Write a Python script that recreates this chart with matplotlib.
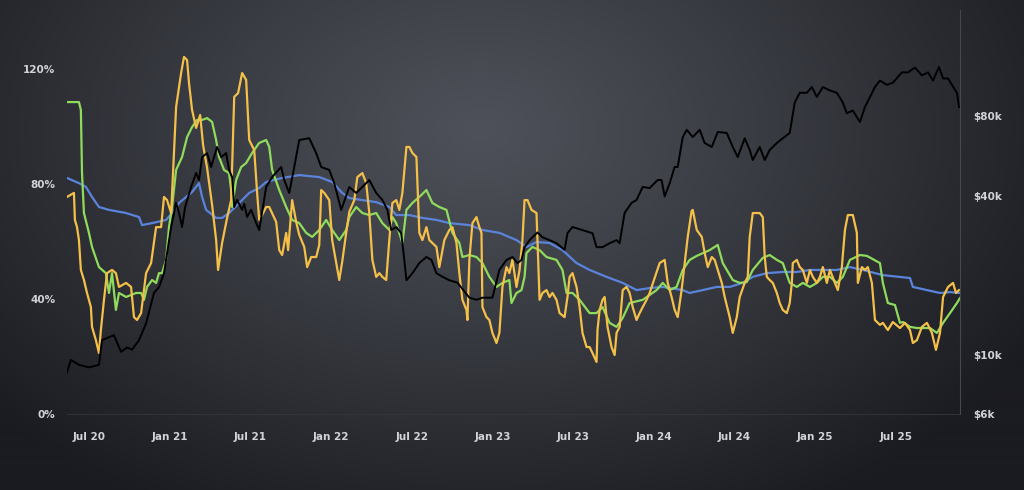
import matplotlib
matplotlib.use("Agg")
import matplotlib.pyplot as plt
import numpy as np

# time is in decimal years, volatility in %, price in thousands of USD

price_years = [2020.364, 2020.388, 2020.438, 2020.500, 2020.562, 2020.581, 2020.624, 2020.655, 2020.699, 2020.736,
               2020.767, 2020.810, 2020.854, 2020.903, 2020.934, 2020.965, 2020.984, 2021.009, 2021.040, 2021.058,
               2021.077, 2021.096, 2021.133, 2021.164, 2021.182, 2021.201, 2021.232, 2021.257, 2021.294, 2021.319,
               2021.350, 2021.368, 2021.387, 2021.400, 2021.418, 2021.449, 2021.462, 2021.480, 2021.505, 2021.536,
               2021.555, 2021.598, 2021.635, 2021.691, 2021.710, 2021.741, 2021.772, 2021.803, 2021.865, 2021.908,
               2021.939, 2021.989, 2022.020, 2022.063, 2022.113, 2022.156, 2022.194, 2022.237, 2022.280, 2022.318,
               2022.349, 2022.373, 2022.404, 2022.435, 2022.454, 2022.467, 2022.504, 2022.547, 2022.591, 2022.622,
               2022.653, 2022.690, 2022.733, 2022.783, 2022.857, 2022.901, 2022.938, 2023.000, 2023.043, 2023.087,
               2023.124, 2023.155, 2023.180, 2023.199, 2023.230, 2023.279, 2023.310, 2023.354, 2023.397, 2023.447,
               2023.465, 2023.496, 2023.558, 2023.620, 2023.645, 2023.682, 2023.726, 2023.769, 2023.788, 2023.819,
               2023.862, 2023.893, 2023.931, 2023.974, 2024.024, 2024.048, 2024.067, 2024.098, 2024.129, 2024.148,
               2024.179, 2024.204, 2024.241, 2024.284, 2024.315, 2024.359, 2024.396, 2024.452, 2024.489, 2024.520,
               2024.563, 2024.594, 2024.613, 2024.656, 2024.687, 2024.718, 2024.762, 2024.799, 2024.842, 2024.873,
               2024.904, 2024.948, 2024.979, 2025.010, 2025.047, 2025.091, 2025.134, 2025.171, 2025.196, 2025.233,
               2025.277, 2025.308, 2025.339, 2025.370, 2025.401, 2025.444, 2025.481, 2025.537, 2025.574, 2025.618,
               2025.661, 2025.699, 2025.730, 2025.767, 2025.792, 2025.823, 2025.847, 2025.878, 2025.891]
price_k = [8.6, 9.6, 9.2, 9.0, 9.2, 11.4, 11.7, 11.9, 10.3, 10.7,
           10.5, 11.4, 13.2, 17.2, 18.1, 20.4, 24.3, 30.5, 37.6, 34.5,
           30.5, 36.3, 43.2, 48.8, 45.9, 56.0, 58.0, 51.4, 61.2, 56.0,
           58.0, 50.1, 47.1, 36.3, 38.6, 35.4, 37.3, 33.3, 35.4, 31.6,
           29.7, 43.2, 47.1, 51.4, 45.9, 41.0, 51.4, 65.0, 66.0, 58.0,
           51.4, 50.1, 44.6, 35.4, 43.2, 41.0, 43.2, 45.9, 41.0, 38.6,
           35.4, 29.7, 30.5, 28.9, 22.9, 19.2, 20.4, 22.3, 23.5, 22.9,
           20.4, 19.8, 19.2, 18.8, 16.5, 16.2, 16.5, 16.5, 21.0, 22.9,
           23.5, 22.3, 22.9, 25.6, 27.2, 29.1, 27.9, 27.2, 26.5, 25.0,
           28.9, 30.5, 29.7, 28.9, 25.6, 25.6, 26.5, 27.2, 26.5, 34.5,
           37.6, 38.6, 43.2, 42.8, 45.9, 45.9, 39.8, 44.6, 51.4, 51.4,
           66.7, 71.0, 66.7, 71.0, 63.3, 61.2, 69.7, 69.1, 61.2, 56.0,
           66.0, 59.6, 54.6, 61.2, 54.6, 59.6, 63.3, 66.0, 69.1, 90.0,
           98.0, 98.0, 103.0, 94.5, 103.0, 100.0, 98.0, 90.0, 82.0, 84.0,
           76.0, 86.6, 94.5, 103.0, 109.0, 105.0, 107.0, 117.0, 117.0, 122.0,
           114.0, 117.0, 109.0, 122.6, 111.0, 111.0, 105.0, 98.0, 86.6]

vol_long_years = [2020.364, 2020.438, 2020.481, 2020.519, 2020.562, 2020.624, 2020.730, 2020.810, 2020.829, 2020.891,
                  2020.978, 2021.015, 2021.058, 2021.102, 2021.139, 2021.182, 2021.201, 2021.226, 2021.288, 2021.325,
                  2021.368, 2021.431, 2021.493, 2021.555, 2021.598, 2021.697, 2021.803, 2021.927, 2022.007, 2022.069,
                  2022.113, 2022.194, 2022.280, 2022.361, 2022.404, 2022.485, 2022.566, 2022.653, 2022.733, 2022.857,
                  2022.938, 2023.043, 2023.149, 2023.211, 2023.273, 2023.354, 2023.434, 2023.521, 2023.602, 2023.707,
                  2023.807, 2023.893, 2023.974, 2024.055, 2024.179, 2024.222, 2024.303, 2024.390, 2024.470, 2024.551,
                  2024.613, 2024.700, 2024.799, 2024.886, 2024.967, 2025.047, 2025.134, 2025.215, 2025.295, 2025.419,
                  2025.587, 2025.605, 2025.692, 2025.773, 2025.835, 2025.891]
vol_long = [82.1, 80.3, 79.0, 75.5, 72.0, 71.0, 69.9, 68.5, 65.7, 66.4,
            67.5, 69.9, 73.4, 75.5, 77.2, 80.3, 75.5, 71.0, 68.2, 68.2,
            69.9, 73.4, 76.9, 78.6, 80.7, 82.1, 83.1, 82.4, 80.7, 76.9,
            75.1, 74.4, 73.7, 72.0, 69.2, 69.2, 68.2, 67.5, 66.4, 65.7,
            64.0, 63.0, 60.5, 58.1, 59.8, 59.5, 57.0, 52.5, 50.1, 47.7,
            45.6, 43.1, 43.8, 44.2, 43.1, 42.1, 43.1, 44.2, 44.2, 45.6,
            47.7, 49.0, 49.4, 49.4, 50.1, 50.1, 50.1, 51.1, 50.1, 48.3,
            47.3, 44.2, 43.1, 42.1, 42.4, 42.1]

vol_mid_years = [2020.364, 2020.438, 2020.450, 2020.457, 2020.469, 2020.500, 2020.519, 2020.562, 2020.605, 2020.624,
                 2020.643, 2020.667, 2020.686, 2020.730, 2020.792, 2020.823, 2020.841, 2020.860, 2020.891, 2020.916,
                 2020.934, 2020.953, 2020.978, 2020.996, 2021.015, 2021.040, 2021.077, 2021.108, 2021.139, 2021.170,
                 2021.201, 2021.232, 2021.263, 2021.288, 2021.306, 2021.337, 2021.368, 2021.381, 2021.387, 2021.412,
                 2021.443, 2021.474, 2021.511, 2021.555, 2021.598, 2021.617, 2021.635, 2021.679, 2021.722, 2021.759,
                 2021.803, 2021.846, 2021.883, 2021.927, 2021.970, 2022.007, 2022.051, 2022.094, 2022.113, 2022.156,
                 2022.194, 2022.237, 2022.280, 2022.318, 2022.361, 2022.380, 2022.404, 2022.442, 2022.467, 2022.504,
                 2022.547, 2022.591, 2022.628, 2022.671, 2022.715, 2022.752, 2022.795, 2022.814, 2022.857, 2022.901,
                 2022.938, 2022.981, 2023.025, 2023.062, 2023.105, 2023.118, 2023.149, 2023.180, 2023.199, 2023.211,
                 2023.248, 2023.292, 2023.335, 2023.397, 2023.434, 2023.459, 2023.496, 2023.540, 2023.602, 2023.645,
                 2023.682, 2023.726, 2023.769, 2023.807, 2023.850, 2023.931, 2024.017, 2024.055, 2024.098, 2024.141,
                 2024.179, 2024.222, 2024.266, 2024.346, 2024.396, 2024.427, 2024.489, 2024.532, 2024.576, 2024.613,
                 2024.675, 2024.718, 2024.762, 2024.799, 2024.842, 2024.886, 2024.923, 2024.967, 2025.010, 2025.047,
                 2025.091, 2025.134, 2025.171, 2025.215, 2025.277, 2025.320, 2025.401, 2025.419, 2025.450, 2025.494,
                 2025.525, 2025.544, 2025.587, 2025.630, 2025.667, 2025.711, 2025.754, 2025.792, 2025.835, 2025.878,
                 2025.897]
vol_mid = [108.5, 108.5, 105.7, 83.8, 69.9, 63.0, 58.1, 51.1, 49.0, 42.1,
           49.0, 36.2, 42.1, 40.7, 42.1, 42.1, 39.7, 44.2, 46.6, 45.6,
           49.0, 49.0, 53.6, 65.0, 72.0, 84.9, 89.4, 96.3, 99.8, 102.3,
           102.3, 102.9, 101.6, 95.3, 89.4, 84.9, 83.8, 77.9, 72.0, 81.4,
           85.9, 87.3, 90.8, 94.3, 95.3, 92.9, 84.9, 77.9, 72.0, 67.5,
           66.4, 63.0, 61.6, 64.0, 67.5, 64.0, 60.5, 64.0, 68.5, 72.0,
           69.9, 69.2, 69.9, 66.4, 64.0, 68.5, 66.4, 59.5, 71.0, 73.4,
           75.5, 77.9, 73.4, 72.0, 71.0, 63.0, 59.5, 54.6, 55.3, 54.6,
           52.5, 47.7, 44.2, 45.6, 46.6, 38.6, 42.1, 43.1, 47.7, 56.0,
           58.1, 57.0, 54.6, 53.6, 50.1, 42.1, 42.1, 39.7, 35.1, 35.1,
           37.2, 31.7, 30.3, 33.4, 38.6, 39.7, 43.1, 45.6, 43.1, 44.2,
           50.1, 53.6, 55.0, 57.0, 58.8, 52.5, 46.6, 45.6, 45.9, 50.1,
           54.3, 55.3, 53.6, 52.5, 45.6, 44.2, 45.6, 44.2, 45.6, 47.7,
           47.7, 45.6, 47.7, 53.6, 55.3, 55.0, 52.5, 45.6, 38.6, 37.9,
           31.7, 32.0, 30.3, 29.9, 29.9, 29.9, 28.2, 31.7, 35.1, 38.6,
           40.3]

vol_short_years = [2020.364, 2020.407, 2020.413, 2020.426, 2020.438, 2020.450, 2020.469, 2020.488, 2020.512, 2020.519,
                   2020.543, 2020.562, 2020.574, 2020.593, 2020.612, 2020.643, 2020.667, 2020.686, 2020.730, 2020.761,
                   2020.779, 2020.798, 2020.823, 2020.854, 2020.885, 2020.916, 2020.947, 2020.965, 2020.984, 2021.009,
                   2021.021, 2021.040, 2021.071, 2021.089, 2021.108, 2021.120, 2021.139, 2021.164, 2021.189, 2021.207,
                   2021.232, 2021.263, 2021.288, 2021.300, 2021.325, 2021.356, 2021.381, 2021.400, 2021.424, 2021.449,
                   2021.474, 2021.493, 2021.524, 2021.542, 2021.555, 2021.573, 2021.598, 2021.617, 2021.660, 2021.679,
                   2021.697, 2021.722, 2021.734, 2021.759, 2021.784, 2021.803, 2021.834, 2021.852, 2021.877, 2021.908,
                   2021.927, 2021.939, 2021.958, 2021.989, 2022.007, 2022.032, 2022.051, 2022.069, 2022.094, 2022.113,
                   2022.144, 2022.163, 2022.194, 2022.218, 2022.237, 2022.256, 2022.280, 2022.299, 2022.318, 2022.342,
                   2022.361, 2022.380, 2022.404, 2022.423, 2022.442, 2022.467, 2022.485, 2022.504, 2022.529, 2022.547,
                   2022.566, 2022.591, 2022.609, 2022.653, 2022.671, 2022.702, 2022.733, 2022.752, 2022.777, 2022.795,
                   2022.814, 2022.839, 2022.845, 2022.857, 2022.876, 2022.901, 2022.919, 2022.932, 2022.938, 2022.963,
                   2022.981, 2023.000, 2023.025, 2023.043, 2023.062, 2023.087, 2023.105, 2023.124, 2023.149, 2023.168,
                   2023.186, 2023.199, 2023.217, 2023.242, 2023.273, 2023.279, 2023.292, 2023.310, 2023.335, 2023.354,
                   2023.372, 2023.397, 2023.416, 2023.447, 2023.465, 2023.478, 2023.496, 2023.521, 2023.540, 2023.558,
                   2023.583, 2023.602, 2023.620, 2023.645, 2023.651, 2023.664, 2023.682, 2023.695, 2023.713, 2023.738,
                   2023.757, 2023.769, 2023.788, 2023.807, 2023.831, 2023.850, 2023.869, 2023.893, 2023.912, 2023.931,
                   2023.955, 2023.974, 2024.005, 2024.036, 2024.067, 2024.086, 2024.110, 2024.129, 2024.148, 2024.172,
                   2024.191, 2024.210, 2024.234, 2024.241, 2024.266, 2024.297, 2024.315, 2024.334, 2024.359, 2024.377,
                   2024.396, 2024.421, 2024.439, 2024.470, 2024.489, 2024.514, 2024.532, 2024.563, 2024.582, 2024.594,
                   2024.613, 2024.656, 2024.675, 2024.687, 2024.700, 2024.718, 2024.737, 2024.762, 2024.780, 2024.799,
                   2024.824, 2024.842, 2024.855, 2024.861, 2024.886, 2024.904, 2024.923, 2024.948, 2024.967, 2024.985,
                   2025.010, 2025.029, 2025.047, 2025.072, 2025.091, 2025.122, 2025.140, 2025.165, 2025.184, 2025.202,
                   2025.233, 2025.258, 2025.264, 2025.289, 2025.308, 2025.326, 2025.351, 2025.370, 2025.401, 2025.419,
                   2025.450, 2025.481, 2025.525, 2025.556, 2025.587, 2025.605, 2025.630, 2025.661, 2025.692, 2025.723,
                   2025.748, 2025.773, 2025.792, 2025.823, 2025.854, 2025.872, 2025.891]
vol_short = [75.5, 76.9, 67.5, 65.0, 60.5, 50.1, 46.6, 42.1, 37.2, 30.3,
             25.7, 21.2, 29.2, 39.7, 49.0, 50.1, 49.0, 44.2, 45.6, 44.2,
             33.7, 32.7, 35.1, 49.0, 52.5, 65.0, 65.0, 75.5, 74.4, 69.9,
             83.8, 106.8, 118.6, 124.2, 123.1, 115.1, 105.7, 99.5, 104.0, 93.6,
             85.6, 72.7, 60.5, 50.1, 59.5, 68.2, 74.4, 110.3, 111.6, 118.6,
             116.2, 95.3, 91.8, 76.9, 67.5, 69.2, 72.0, 72.0, 66.8, 57.0,
             55.3, 63.0, 57.0, 74.4, 66.8, 62.3, 58.1, 51.1, 54.6, 54.6,
             58.8, 77.9, 76.9, 74.4, 60.5, 52.5, 46.6, 52.9, 63.0, 70.3,
             74.4, 82.4, 83.8, 80.3, 69.9, 53.6, 47.7, 49.0, 47.7, 46.6,
             60.5, 73.4, 74.4, 71.0, 76.9, 92.9, 92.9, 90.8, 89.4, 63.0,
             60.5, 65.0, 60.5, 58.1, 51.1, 60.5, 64.0, 65.0, 59.5, 49.0,
             39.7, 36.2, 32.7, 53.6, 66.4, 68.5, 65.0, 63.0, 37.2, 33.7,
             32.7, 28.2, 24.7, 28.2, 44.2, 51.1, 49.0, 53.6, 44.2, 50.1,
             60.5, 74.4, 74.4, 71.0, 69.9, 60.5, 39.7, 42.1, 43.1, 40.7,
             42.1, 39.7, 35.1, 33.7, 40.7, 47.7, 49.0, 44.2, 37.2, 28.2,
             23.3, 23.3, 21.2, 18.1, 29.2, 36.2, 39.7, 40.7, 30.3, 23.3,
             20.5, 28.2, 30.3, 43.1, 44.2, 42.1, 37.2, 32.7, 35.1, 37.2,
             39.7, 42.1, 47.3, 52.5, 53.6, 45.6, 40.7, 36.2, 33.7, 43.1,
             52.5, 61.6, 70.6, 71.0, 64.0, 61.6, 56.0, 51.1, 54.6, 53.6,
             50.1, 45.6, 40.7, 33.7, 28.2, 33.7, 40.7, 45.6, 47.7, 61.6,
             69.9, 69.9, 68.5, 54.6, 47.7, 46.6, 45.6, 42.1, 38.6, 36.2,
             35.1, 38.6, 45.6, 52.5, 53.6, 51.1, 50.1, 45.6, 50.1, 47.7,
             45.6, 47.7, 51.1, 45.6, 50.1, 45.6, 43.1, 51.1, 64.0, 69.2,
             69.2, 63.0, 45.6, 51.1, 50.1, 51.1, 45.6, 32.7, 31.0, 31.7,
             29.2, 32.0, 29.9, 31.7, 29.2, 24.7, 25.7, 30.3, 31.7, 28.2,
             22.3, 28.2, 40.7, 44.2, 45.6, 42.1, 43.1]

tick_years = [2020.5, 2021.0, 2021.5, 2022.0, 2022.5, 2023.0, 2023.5, 2024.0, 2024.5, 2025.0, 2025.5]
tick_labels = ["Jul 20", "Jan 21", "Jul 21", "Jan 22", "Jul 22", "Jan 23",
               "Jul 23", "Jan 24", "Jul 24", "Jan 25", "Jul 25"]
vol_ticks = [0, 40, 80, 120]
price_ticks = [6, 10, 40, 80]

W, H = 1024, 490
fig = plt.figure(figsize=(W / 100, H / 100), dpi=100)

# dark radial background, lighter toward the upper middle
bg = fig.add_axes([0, 0, 1, 1], zorder=-10)
yy, xx = np.mgrid[0:H, 0:W]
r = np.sqrt(((xx - 480) / 640.0) ** 2 + ((yy - 130) / 430.0) ** 2)
r = np.clip(r, 0, 1) ** 1.1
inner = np.array([78, 81, 89]) / 255.0
outer = np.array([27, 28, 33]) / 255.0
img = inner[None, None, :] * (1 - r[..., None]) + outer[None, None, :] * r[..., None]
bg.imshow(img, aspect="auto", extent=[0, 1, 0, 1])
bg.axis("off")

txt = "#d2d3d7"
ax = fig.add_axes([67 / W, 1 - 414 / H, (960 - 67) / W, (414 - 10) / H])
ax.patch.set_alpha(0)
ax.plot(vol_long_years, vol_long, color="#5a84dc", lw=1.6)
ax.plot(vol_mid_years, vol_mid, color="#8fdc5c", lw=1.6)
ax.plot(vol_short_years, vol_short, color="#f4c04a", lw=1.6)
ax.set_xlim(price_years[0], 2025.897)
ax.set_ylim(0, 404 / 2.875)
ax.set_yticks(vol_ticks)
ax.set_yticklabels([f"{v}%" for v in vol_ticks])
ax.set_xticks(tick_years)
ax.set_xticklabels(tick_labels)
ax.tick_params(axis="y", length=0, pad=8.5, labelcolor=txt, labelsize=7.5)
ax.tick_params(axis="x", length=0, pad=13, labelcolor=txt, labelsize=7.5)
for lab in ax.get_xticklabels() + ax.get_yticklabels():
    lab.set_fontweight("bold")
for s in ["top", "left", "right"]:
    ax.spines[s].set_visible(False)
ax.spines["bottom"].set_color("#34363c")
ax.spines["bottom"].set_linewidth(0.6)

ax2 = ax.twinx()
ax2.plot(price_years, [p * 1000 for p in price_k], color="black", lw=1.4)
ax2.set_yscale("log")
ax2.set_ylim(6000, 6000 * np.exp(404 / 115))
ax2.set_yticks([p * 1000 for p in price_ticks])
ax2.set_yticklabels([f"${p}k" for p in price_ticks])
ax2.yaxis.set_minor_locator(matplotlib.ticker.NullLocator())
ax2.tick_params(axis="y", length=0, pad=9.5, labelcolor=txt, labelsize=7.5)
for lab in ax2.get_yticklabels():
    lab.set_fontweight("bold")
for s in ["top", "left", "bottom"]:
    ax2.spines[s].set_visible(False)
ax2.spines["right"].set_color("#45474e")
ax2.spines["right"].set_linewidth(0.8)

fig.savefig("out.png", dpi=100)
